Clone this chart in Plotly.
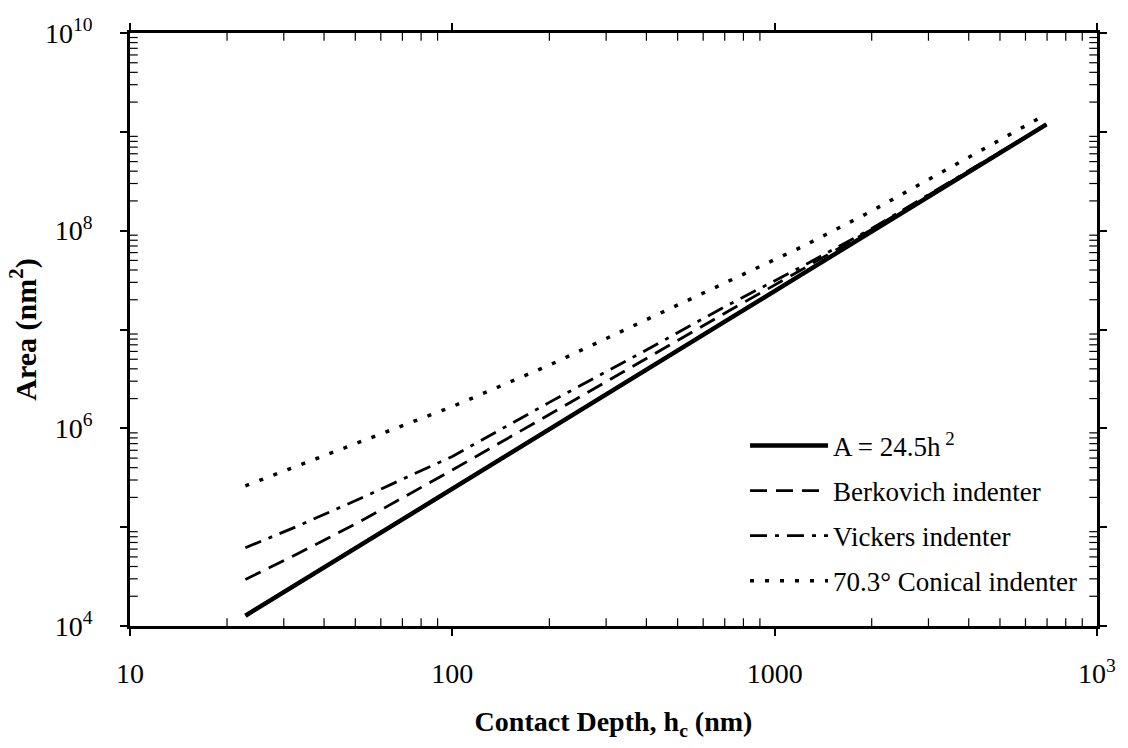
import plotly.graph_objects as go

# Contact depth (nm) at which values were read
h_nm = [22.8, 33, 52, 100, 200, 400, 700, 1200, 2000, 4000, 6970]

# Area (nm^2) for each curve
area_fit = [1.27e4, 2.67e4, 6.62e4, 2.45e5, 9.8e5, 3.92e6, 1.2e7, 3.53e7, 9.8e7, 3.92e8, 1.19e9]
area_berkovich = [2.96e4, 5.35e4, 1.15e5, 3.79e5, 1.38e6, 5.12e6, 1.46e7, 3.95e7, 1.03e8, 4.01e8, 1.19e9]
area_vickers = [6.19e4, 1.02e5, 1.96e5, 5.2e5, 1.83e6, 6.21e6, 1.7e7, 4.24e7, 1.05e8, 4.01e8, 1.19e9]
area_conical = [2.62e5, 4.14e5, 7.24e5, 1.66e6, 4.36e6, 1.26e7, 2.95e7, 6.73e7, 1.58e8, 5.51e8, 1.51e9]

series_names = ["A = 24.5h<sup> 2</sup>", "Berkovich indenter", "Vickers indenter", "70.3° Conical indenter"]

x_major = [10, 100, 1000, 10000]
x_major_text = ["10", "100", "1000", "10<sup>3</sup>"]
y_major = [1e4, 1e5, 1e6, 1e7, 1e8, 1e9, 1e10]
y_major_text = ["10<sup>4</sup>", "", "10<sup>6</sup>", "", "10<sup>8</sup>", "", "10<sup>10</sup>"]

x_minor = [float(m * 10 ** k) for k in (1, 2, 3) for m in range(2, 10)]
y_minor = [float(m * 10 ** k) for k in range(4, 10) for m in range(2, 10)]

FONT = "Liberation Serif, Times New Roman, serif"

fig = go.Figure()
styles = [
    dict(width=4.5, dash="solid"),
    dict(width=2.8, dash="17px,9px"),
    dict(width=2.8, dash="17px,8px,4px,8px"),
    dict(width=3.5, dash="4px,11px"),
]
data = [area_fit, area_berkovich, area_vickers, area_conical]
for i, (name, ys, st) in enumerate(zip(series_names, data, styles)):
    fig.add_trace(go.Scatter(
        x=h_nm, y=ys, mode="lines", name=name,
        legendgroup=f"g{i}",
        line=dict(color="black", width=st["width"], dash=st["dash"]),
    ))

# minor tick marks (inside, on all four sides) at the minor tick values
for xv in x_minor:
    for y0, y1 in ((0, 0.013), (1, 0.987)):
        fig.add_shape(type="line", xref="x", yref="paper", x0=xv, x1=xv, y0=y0, y1=y1,
                      line=dict(color="black", width=1.2), layer="above")
for yv in y_minor:
    for x0, x1 in ((0, 0.008), (1, 0.992)):
        fig.add_shape(type="line", xref="paper", yref="y", x0=x0, x1=x1, y0=yv, y1=yv,
                      line=dict(color="black", width=1.2), layer="above")

fig.update_layout(
    xaxis=dict(
        type="log", range=[1, 4],
        showgrid=False, zeroline=False,
        showline=True, linecolor="black", linewidth=2.5, mirror="ticks",
        tickmode="array", tickvals=x_major, ticktext=x_major_text,
        ticks="outside", ticklen=7, tickwidth=1.5, tickcolor="black",
        tickfont=dict(family=FONT, size=28, color="black"),
        ticklabelstandoff=14,
        title=dict(text="<b>Contact Depth, h<sub>c</sub> (nm)</b>",
                   font=dict(family=FONT, size=28, color="black"), standoff=24),
    ),
    yaxis=dict(
        type="log", range=[4, 10],
        showgrid=False, zeroline=False,
        showline=True, linecolor="black", linewidth=2.5, mirror="ticks",
        tickmode="array", tickvals=y_major, ticktext=y_major_text,
        ticks="outside", ticklen=7, tickwidth=1.5, tickcolor="black",
        tickfont=dict(family=FONT, size=28, color="black"),
        ticklabelstandoff=22,
        title=dict(text="<b>Area (nm<sup>2</sup>)</b>",
                   font=dict(family=FONT, size=30, color="black"), standoff=0),
    ),
    width=1128, height=748,
    margin=dict(l=130, r=31, t=33, b=122),
    paper_bgcolor="white", plot_bgcolor="white",
    font=dict(family=FONT, color="black"),
    showlegend=True,
    legend=dict(
        x=0.636, y=0.345, xanchor="left", yanchor="top",
        bgcolor="rgba(0,0,0,0)", borderwidth=0,
        font=dict(family=FONT, size=27, color="black"),
        itemwidth=78, tracegroupgap=7,
    ),
)

fig.write_html("out.html")
